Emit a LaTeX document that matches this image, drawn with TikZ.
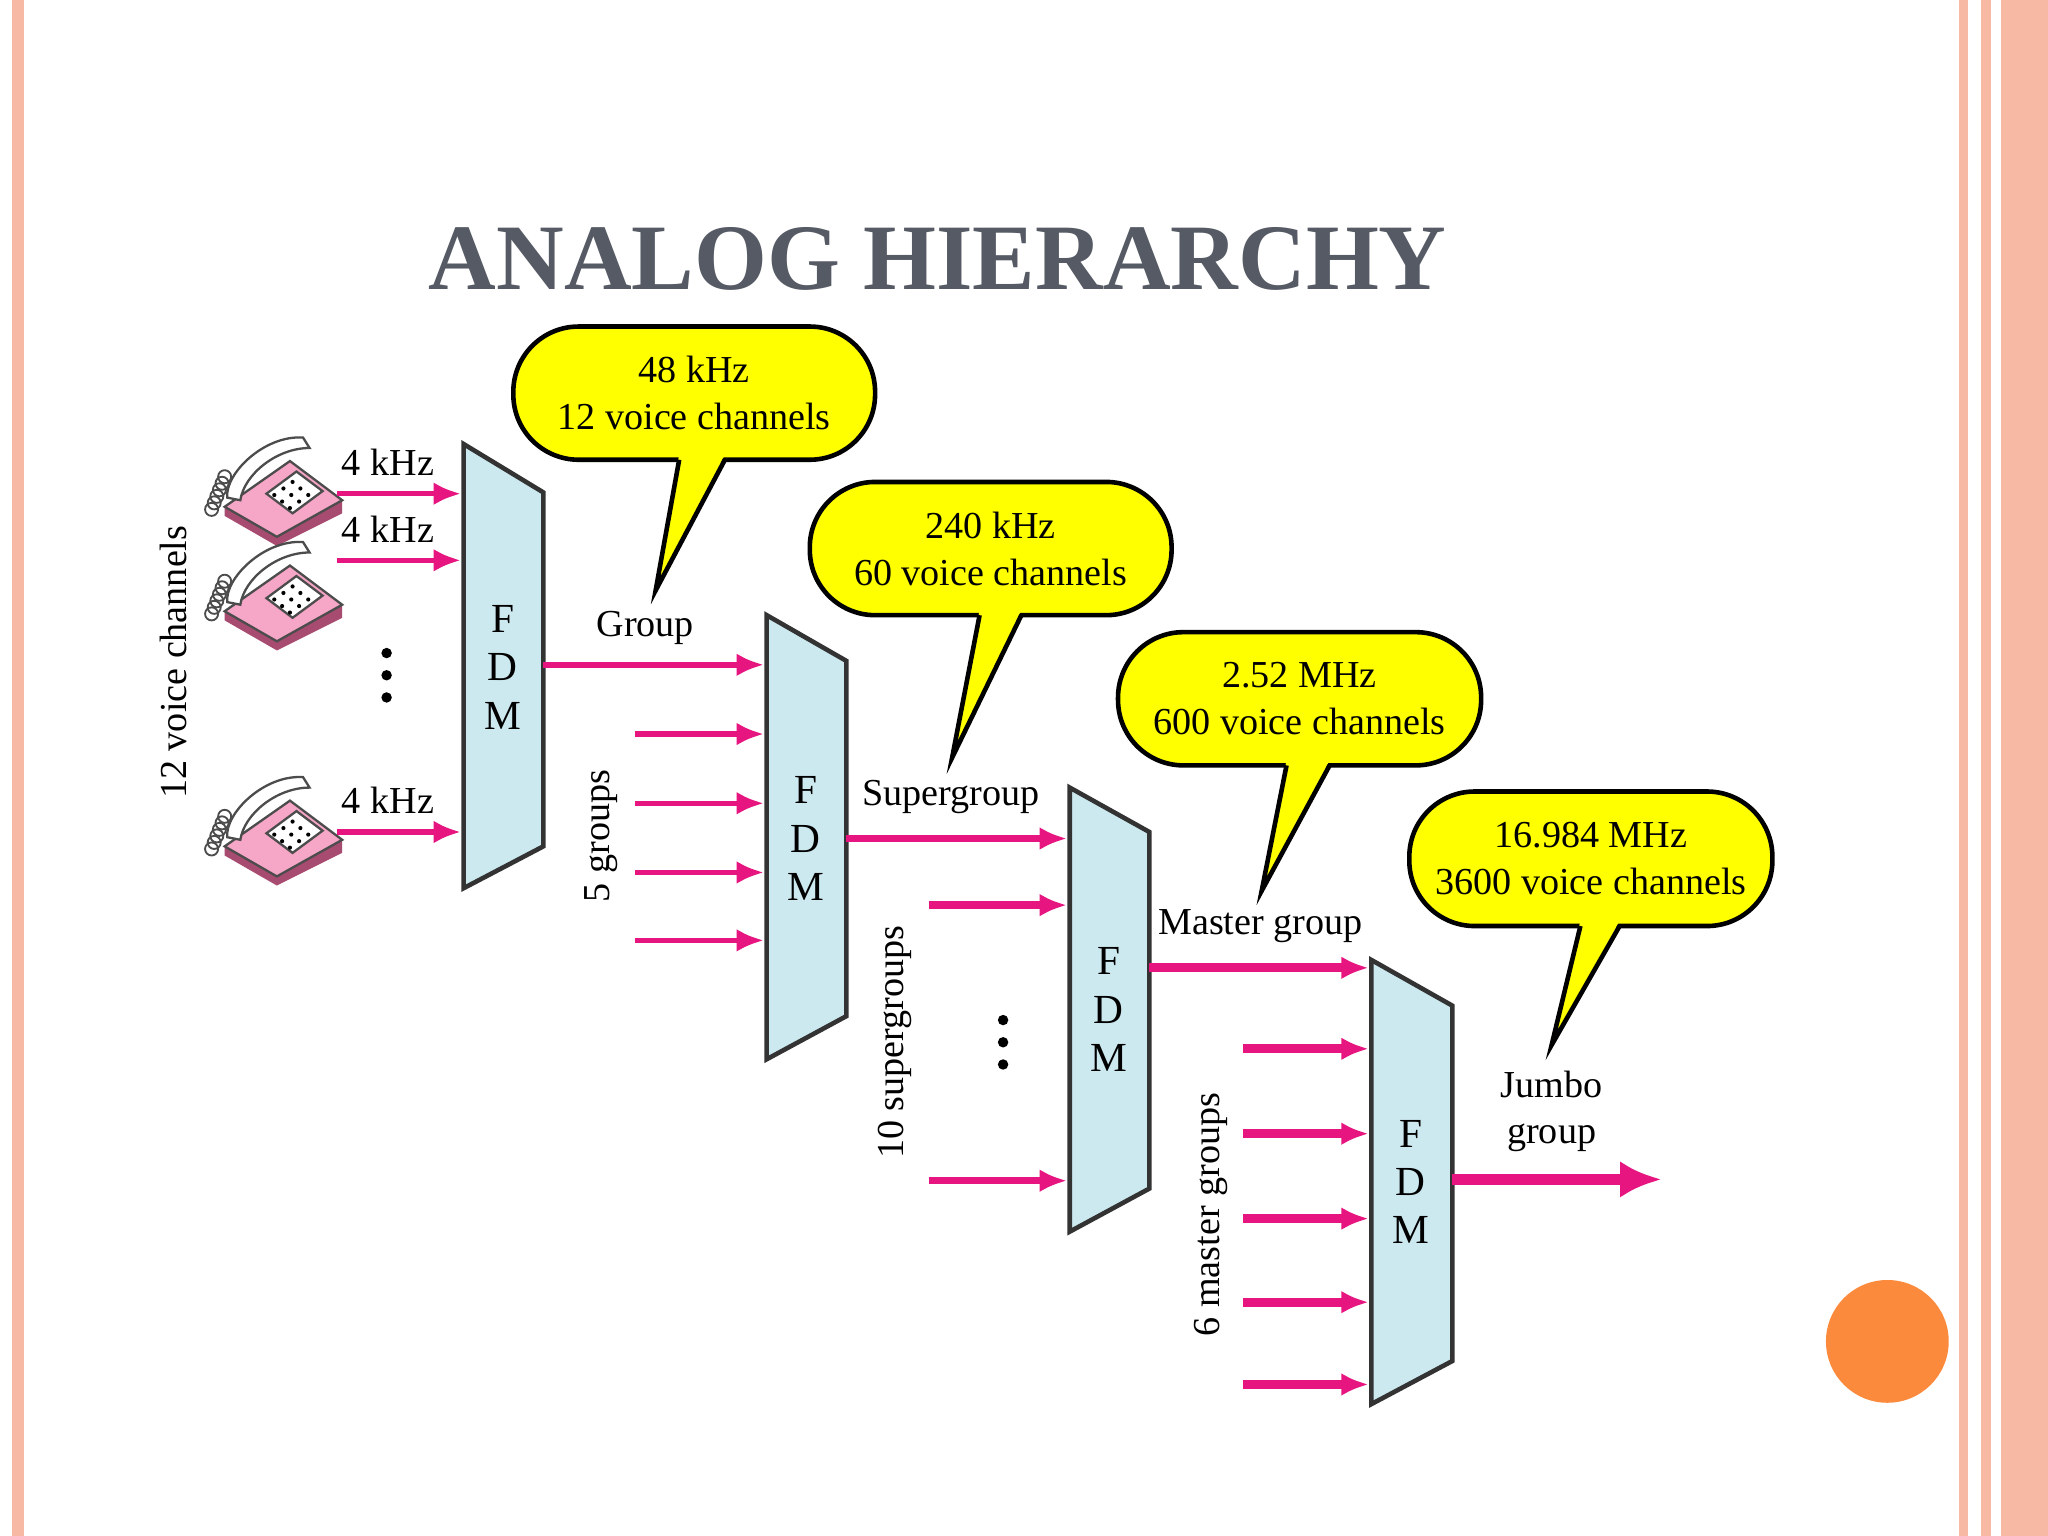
\documentclass[tikz,border=0pt]{standalone}
\usepackage{fontspec}
\setmainfont{Liberation Serif}
\usetikzlibrary{arrows.meta}
\definecolor{fdmblue}{HTML}{CDE9F0}
\definecolor{feed}{HTML}{E6157F}
\definecolor{bubble}{HTML}{FFFF00}
\definecolor{salmon}{HTML}{F8B9A4}
\definecolor{titlegray}{HTML}{555A64}
\definecolor{dot}{HTML}{FB8A3C}
\definecolor{phonepink}{HTML}{F06BA0}

\tikzset{
  fdm/.style = {draw = black!80, fill = fdmblue, line width = 1pt},
  fdmtext/.style = {font = \fontsize{9pt}{10.5pt}\selectfont, align = center},
  feedline/.style = {draw = feed, line width = 1.2pt, -{Latex[length=6pt,width=5pt]}},
  mainline/.style = {draw = feed, line width = 2.4pt, -{Latex[length=9pt,width=8pt]}},
  lbl/.style = {font = \fontsize{8.3pt}{10pt}\selectfont, align = center},
  call/.style = {draw = black, line width = 1pt, fill = bubble, rounded corners = 0.5cm}
}

% telephone drawn at a point
\newcommand{\telephone}[1]{
  \begin{scope}[shift = {#1}]
    \fill[phonepink!70!black] (-40,15) -- (0,38) -- (50,10) -- (50,20) -- (0,45) -- (-40,22) -- cycle;
    \filldraw[fill = phonepink!60, draw = black!70, line width = .5pt] (-40,15) -- (10,-20) -- (50,10) -- (0,38) -- cycle;
    \filldraw[fill = white, draw = black!70, line width = .5pt] (-8,5) -- (15,-12) -- (35,3) -- (12,20) -- cycle;
    \foreach \i in {0,1,2}
      \foreach \j in {0,1,2}
        \fill[black] ({-2+7*\i+6*\j},{6-5*\i+5*\j}) circle (1.6);
    \filldraw[fill = white, draw = black!70, line width = .5pt] (-38,8) .. controls (-40,-10) and (-10,-40) .. (20,-38) -- (25,-30) .. controls (0,-30) and (-25,-10) .. (-28,10) -- cycle;
    \foreach \k in {0,...,5}
      \draw[black!70, line width = .4pt] ({-40-2*\k},{-8+5*\k}) circle (5);
  \end{scope}
}

\begin{document}
\begin{tikzpicture}[x = 0.01cm, y = -0.01cm]
  \useasboundingbox (0,0) rectangle (1568,1176);
  \fill[white] (0,0) rectangle (1568,1176);

  % slide frame
  \fill[salmon] (9,0) rectangle (18,1176);
  \fill[salmon] (1500,0) rectangle (1507,1176);
  \fill[salmon] (1517,0) rectangle (1524,1176);
  \fill[salmon] (1532,0) rectangle (1568,1176);
  \fill[dot] (1445,1027) circle (47);

  \node[font = \fontsize{20.4pt}{24pt}\selectfont\bfseries, text = titlegray] (title) at (718,198) {ANALOG HIERARCHY};

  % multiplexers
  \filldraw[fdm] (355,340) -- (416,377) -- (416,648) -- (355,680) -- cycle;
  \filldraw[fdm] (587,471) -- (648,506) -- (648,778) -- (587,811) -- cycle;
  \filldraw[fdm] (819,603) -- (880,637) -- (880,910) -- (819,943) -- cycle;
  \filldraw[fdm] (1050,735) -- (1112,770) -- (1112,1042) -- (1050,1075) -- cycle;
  \node[fdmtext] (fdmA) at (385,511) {F\\D\\M};
  \node[fdmtext] (fdmB) at (617,642) {F\\D\\M};
  \node[fdmtext] (fdmC) at (849,773) {F\\D\\M};
  \node[fdmtext] (fdmD) at (1080,905) {F\\D\\M};

  % voice inputs
  \telephone{(212,373)}
  \telephone{(212,453)}
  \telephone{(212,633)}
  \foreach \y/\n in {378/a, 429/b, 637/c} {
    \coordinate (v\n) at (258,\y);
    \coordinate (w\n) at (353,\y);
    \draw[feedline] (v\n) -- (w\n);
    \node[lbl] at (297,\y-24) {4 kHz};
  }
  \foreach \y in {500,517,534} \fill (296,\y) circle (4);
  \node[lbl, rotate = 90] (voice) at (133,507) {12 voice channels};

  % groups
  \coordinate (gA) at (416,509); \coordinate (gB) at (585,509);
  \draw[feedline] (gA) -- (gB);
  \node[lbl] (group) at (494,481) {Group};
  \foreach \y in {562,615,668,720} \draw[feedline] (486,\y) -- (585,\y);
  \node[lbl, rotate = 90] (fivegroups) at (460,640) {5 groups};

  % supergroups
  \coordinate (sA) at (648,642); \coordinate (sB) at (817,642);
  \draw[feedline, line width = 1.6pt] (sA) -- (sB);
  \node[lbl] (super) at (728,610) {Supergroup};
  \foreach \y in {693,904} \draw[feedline, line width = 1.6pt] (711,\y) -- (817,\y);
  \foreach \y in {781,798,815} \fill (768,\y) circle (4);
  \node[lbl, rotate = 90] (tensuper) at (685,798) {10 supergroups};

  % master groups
  \coordinate (mA) at (880,741); \coordinate (mB) at (1048,741);
  \draw[feedline, line width = 2pt] (mA) -- (mB);
  \node[lbl] (master) at (965,709) {Master group};
  \foreach \y in {803,868,933,997,1060} \draw[feedline, line width = 2pt] (952,\y) -- (1048,\y);
  \node[lbl, rotate = 90] (sixmaster) at (927,930) {6 master groups};

  % jumbo group
  \coordinate (jA) at (1112,903); \coordinate (jB) at (1272,903);
  \draw[mainline] (jA) -- (jB);
  \node[lbl] (jumbo) at (1188,851) {Jumbo\\group};

  % callouts
  \foreach \l/\t/\r/\b/\p/\q/\tx/\ty/\txt in {
      393/250/670/352/520/555/502/452/{48 kHz\\12 voice channels},
      620/369/897/471/750/782/729/580/{240 kHz\\60 voice channels},
      856/484/1134/586/985/1018/966/682/{2.52 MHz\\600 voice channels},
      1079/606/1357/709/1210/1240/1188/800/{16.984 MHz\\3600 voice channels}} {
    \filldraw[call] (\l,\t) rectangle (\r,\b);
    \fill[bubble] (\p,\b-4) -- (\tx,\ty) -- (\q,\b-4) -- cycle;
    \draw[line width = 1pt] (\p,\b) -- (\tx,\ty) -- (\q,\b);
    \node[lbl, font = \fontsize{8.3pt}{10.2pt}\selectfont] at ({(\l+\r)/2},{(\t+\b)/2}) {\txt};
  }
\end{tikzpicture}
\end{document}
